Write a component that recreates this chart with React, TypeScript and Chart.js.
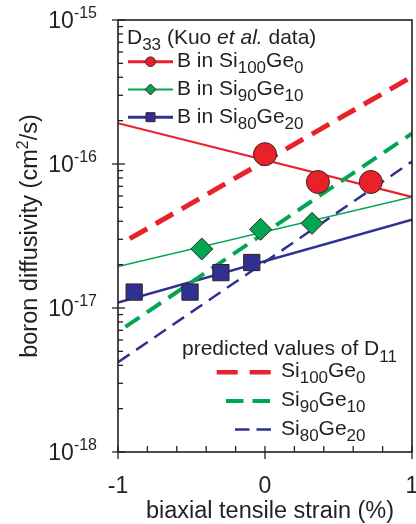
import React, { useEffect, useRef } from "react";
import { Chart, registerables } from "chart.js";

Chart.register(...registerables);

// ---- Data ----
const X_MIN = -1;
const X_MAX = 1;
const Y_MIN = 1e-18;
const Y_MAX = 1e-15;

// Kuo et al. measured D33
const strainSi100 = [0.0, 0.36, 0.72];
const diffSi100 = [1.17e-16, 7.5e-17, 7.5e-17];
const strainSi90 = [-0.43, -0.03, 0.32];
const diffSi90 = [2.57e-17, 3.52e-17, 3.87e-17];
const strainSi80 = [-0.89, -0.51, -0.3, -0.09];
const diffSi80 = [1.29e-17, 1.29e-17, 1.76e-17, 2.07e-17];

// fitted solid lines
const fitStrain = [-1, 1];
const fitSi100 = [1.92e-16, 5.9e-17];
const fitSi90 = [1.94e-17, 5.9e-17];
const fitSi80 = [1.09e-17, 4.1e-17];

// predicted D11 (dashed)
const predStrainSi100 = [-0.92, 1];
const predSi100 = [3.03e-17, 4.04e-16];
const predStrainSi90 = [-0.95, 1];
const predSi90 = [7.4e-18, 1.63e-16];
const predStrainSi80 = [-1, 1];
const predSi80 = [4.2e-18, 1.04e-16];

const xMajorTicks = [-1, 0, 1];
const xTickLabels = ["-1", "0", "1"];
const yExponents = [-15, -16, -17, -18];
const yExpLabels = ["-15", "-16", "-17", "-18"];

const RED = "#E8212B";
const GREEN = "#00A651";
const BLUE = "#2E3192";
const INK = "#231F20";

const FONT = '"Liberation Sans", Arial, Helvetica, sans-serif';

type Seg = { t: string; size: number; dy?: number; italic?: boolean };

function fontOf(s: Seg) {
  return `${s.italic ? "italic " : ""}${s.size}px ${FONT}`;
}

function drawRich(
  ctx: CanvasRenderingContext2D,
  segs: Seg[],
  x: number,
  y: number,
  align: "left" | "right" | "center" = "left"
) {
  ctx.textAlign = "left";
  ctx.textBaseline = "alphabetic";
  const widths = segs.map((s) => {
    ctx.font = fontOf(s);
    return ctx.measureText(s.t).width;
  });
  const total = widths.reduce((a, b) => a + b, 0);
  let cx = align === "left" ? x : align === "right" ? x - total : x - total / 2;
  segs.forEach((s, i) => {
    ctx.font = fontOf(s);
    ctx.fillText(s.t, cx, y + (s.dy || 0));
    cx += widths[i];
  });
}

function zip(xs: number[], ys: number[]) {
  return xs.map((x, i) => ({ x, y: ys[i] }));
}

const decorPlugin = {
  id: "decor",
  afterDraw(chart: any) {
    const ctx: CanvasRenderingContext2D = chart.ctx;
    const { left, right, top, bottom } = chart.chartArea;
    const xs = chart.scales.x;
    const ys = chart.scales.y;
    ctx.save();
    ctx.strokeStyle = INK;
    ctx.fillStyle = INK;
    ctx.lineWidth = 1.6;
    ctx.lineCap = "butt";
    // frame
    ctx.strokeRect(left, top, right - left, bottom - top);

    ctx.lineWidth = 1.3;
    // y ticks
    for (let e = -18; e <= -16; e++) {
      for (let m = 2; m <= 9; m++) {
        const py = ys.getPixelForValue(m * Math.pow(10, e));
        ctx.beginPath();
        ctx.moveTo(left, py);
        ctx.lineTo(left + 5, py);
        ctx.stroke();
      }
    }
    yExponents.forEach((e, i) => {
      const py = ys.getPixelForValue(Math.pow(10, e));
      ctx.beginPath();
      ctx.moveTo(left - 6, py);
      ctx.lineTo(left + 7, py);
      ctx.stroke();
      drawRich(
        ctx,
        [
          { t: "10", size: 23 },
          { t: yExpLabels[i], size: 16, dy: -10 },
        ],
        97,
        py + 8,
        "right"
      );
    });
    // x ticks
    for (let k = -4; k <= 4; k++) {
      if (k === 0) continue;
      const px = xs.getPixelForValue(k * 0.2);
      ctx.beginPath();
      ctx.moveTo(px, bottom);
      ctx.lineTo(px, bottom - 6);
      ctx.stroke();
    }
    xMajorTicks.forEach((v, i) => {
      const px = xs.getPixelForValue(v);
      ctx.beginPath();
      ctx.moveTo(px, bottom - 6);
      ctx.lineTo(px, bottom + 7);
      ctx.stroke();
      drawRich(ctx, [{ t: xTickLabels[i], size: 23 }], px, bottom + 41, "center");
    });

    // axis titles
    drawRich(ctx, [{ t: "biaxial tensile strain (%)", size: 23.5 }], 270, 518, "center");
    ctx.save();
    ctx.translate(37, (top + bottom) / 2);
    ctx.rotate(-Math.PI / 2);
    drawRich(
      ctx,
      [
        { t: "boron diffusivity (cm", size: 23.5 },
        { t: "2", size: 16, dy: -9 },
        { t: "/s)", size: 23.5 },
      ],
      0,
      0,
      "center"
    );
    ctx.restore();

    // legend 1
    drawRich(
      ctx,
      [
        { t: "D", size: 21 },
        { t: "33", size: 17, dy: 6 },
        { t: " (Kuo ", size: 21 },
        { t: "et al.", size: 21, italic: true },
        { t: " data)", size: 21 },
      ],
      127,
      43.5
    );
    const rows1 = [61.7, 89.5, 117.2];
    const cols = [RED, GREEN, BLUE];
    const lw = [3, 2, 3];
    const subs1 = [
      ["100", "0"],
      ["90", "10"],
      ["80", "20"],
    ];
    rows1.forEach((ry, i) => {
      ctx.strokeStyle = cols[i];
      ctx.lineWidth = lw[i];
      ctx.beginPath();
      ctx.moveTo(128, ry);
      ctx.lineTo(173, ry);
      ctx.stroke();
      const mx = 150.5;
      ctx.fillStyle = cols[i];
      ctx.strokeStyle = "#3a2020";
      ctx.lineWidth = 1;
      ctx.beginPath();
      if (i === 0) {
        ctx.arc(mx, ry, 4.8, 0, Math.PI * 2);
      } else if (i === 1) {
        ctx.moveTo(mx - 5.5, ry);
        ctx.lineTo(mx, ry - 5.5);
        ctx.lineTo(mx + 5.5, ry);
        ctx.lineTo(mx, ry + 5.5);
        ctx.closePath();
      } else {
        ctx.rect(mx - 4.5, ry - 4.5, 9, 9);
      }
      ctx.fill();
      ctx.stroke();
      ctx.fillStyle = INK;
      drawRich(
        ctx,
        [
          { t: "B in Si", size: 21 },
          { t: subs1[i][0], size: 17, dy: 6 },
          { t: "Ge", size: 21 },
          { t: subs1[i][1], size: 17, dy: 6 },
        ],
        177,
        ry + 5.5
      );
    });

    // legend 2
    ctx.fillStyle = INK;
    drawRich(
      ctx,
      [
        { t: "predicted values of D", size: 21 },
        { t: "11", size: 17, dy: 7 },
      ],
      182,
      355
    );
    const rows2 = [372.3, 401, 429.5];
    const dashStart = [216.7, 226, 235];
    const dashPat = [
      [21, 12],
      [17.5, 9],
      [14.5, 7],
    ];
    const dlw = [4.5, 4, 2.5];
    rows2.forEach((ry, i) => {
      ctx.strokeStyle = cols[i];
      ctx.lineWidth = dlw[i];
      ctx.setLineDash(dashPat[i]);
      ctx.beginPath();
      ctx.moveTo(dashStart[i], ry);
      ctx.lineTo(271, ry);
      ctx.stroke();
      ctx.setLineDash([]);
      ctx.fillStyle = INK;
      drawRich(
        ctx,
        [
          { t: "Si", size: 21 },
          { t: subs1[i][0], size: 17, dy: 6 },
          { t: "Ge", size: 21 },
          { t: subs1[i][1], size: 17, dy: 6 },
        ],
        281,
        ry + 5
      );
    });

    ctx.restore();
  },
};

export default function App() {
  const ref = useRef<HTMLCanvasElement>(null);
  useEffect(() => {
    if (!ref.current) return;
    const lineDs = (data: any, color: string, width: number, dash: number[] | undefined, order: number) => ({
      data,
      showLine: true,
      borderColor: color,
      backgroundColor: color,
      borderWidth: width,
      borderDash: dash || [],
      pointRadius: 0,
      pointHoverRadius: 0,
      tension: 0,
      order,
    });
    const ptDs = (data: any, color: string, style: string, radius: number) => ({
      data,
      showLine: false,
      pointStyle: style,
      pointRadius: radius,
      pointHoverRadius: radius,
      pointBackgroundColor: color,
      pointBorderColor: "#3a2020",
      pointBorderWidth: 1,
      order: 0,
    });
    const chart = new Chart(ref.current, {
      type: "scatter",
      data: {
        datasets: [
          ptDs(zip(strainSi100, diffSi100), RED, "circle", 11.5),
          ptDs(zip(strainSi90, diffSi90), GREEN, "rectRot", 11),
          ptDs(zip(strainSi80, diffSi80), BLUE, "rect", 11.5),
          lineDs(zip(predStrainSi100, predSi100), RED, 5, [20, 10], 1),
          lineDs(zip(predStrainSi90, predSi90), GREEN, 4, [17, 9], 1),
          lineDs(zip(predStrainSi80, predSi80), BLUE, 2.5, [14, 8], 1),
          lineDs(zip(fitStrain, fitSi100), RED, 2.2, undefined, 2),
          lineDs(zip(fitStrain, fitSi90), GREEN, 1.5, undefined, 2),
          lineDs(zip(fitStrain, fitSi80), BLUE, 2.6, undefined, 2),
        ] as any,
      },
      options: {
        responsive: false,
        animation: false,
        devicePixelRatio: 1,
        layout: { autoPadding: false, padding: { left: 118, top: 20, right: 4, bottom: 72 } },
        plugins: { legend: { display: false }, tooltip: { enabled: false } },
        scales: {
          x: { type: "linear", min: X_MIN, max: X_MAX, display: false },
          y: { type: "logarithmic", min: Y_MIN, max: Y_MAX, display: false },
        },
      } as any,
      plugins: [decorPlugin],
    });
    return () => chart.destroy();
  }, []);
  return (
    <div style={{ position: "fixed", left: 0, top: 0, width: 416, height: 524, background: "#fff" }}>
      <canvas ref={ref} width={416} height={524} style={{ display: "block", width: 416, height: 524 }} />
    </div>
  );
}
